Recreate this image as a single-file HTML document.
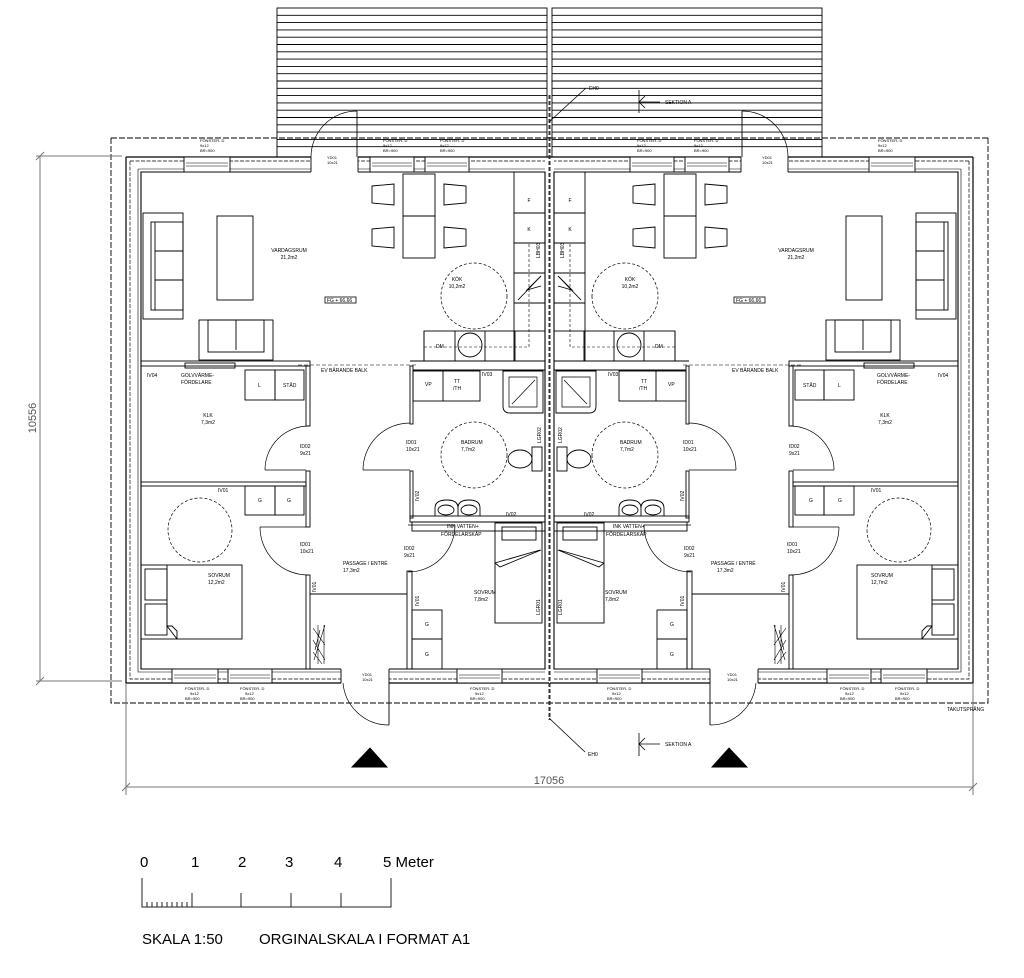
<!DOCTYPE html>
<html><head><meta charset="utf-8"><style>
html,body{margin:0;padding:0;background:#fff;}
svg{display:block;font-family:"Liberation Sans",sans-serif;}
.t{font-size:5px;font-family:"Liberation Sans",sans-serif;}
</style></head><body>
<svg width="1024" height="978" viewBox="0 0 1024 978" xmlns="http://www.w3.org/2000/svg">
<defs>
<g id="half" fill="none" stroke="#000" stroke-width="0.9">
  <!-- deck -->
  <rect x="277" y="8" width="270" height="149"/>
  <path d="M277 15.3H547M277 22.6H547M277 29.9H547M277 37.2H547M277 44.5H547M277 51.8H547M277 59.1H547M277 66.4H547M277 73.7H547M277 81H547M277 88.3H547M277 95.6H547M277 102.9H547M277 110.2H547M277 117.5H547M277 124.8H547M277 132.1H547M277 139.4H547M277 146.7H547"/>
  <!-- roof dashed -->
  <path d="M111 138H549M111 138V703H549" stroke-dasharray="6,2"/>
  <!-- outer walls -->
  <path d="M126 157H549M126 157V683H549" stroke-width="1.2"/>
  <path d="M130 161H545M130 161V679H545" stroke-dasharray="4,1.5" stroke-width="0.7"/>
  <path d="M141 172H545V669H141Z" stroke-width="1.1"/>
  <path d="M138 169H545M138 169V672H545" stroke-width="0.6"/>
  <!-- party wall -->
  <path d="M549 95V720" stroke-dasharray="4,2" stroke-width="0.8"/>
  <!-- door gaps top -->
  <rect x="311" y="155" width="47" height="19" fill="#fff" stroke="none"/>
  <path d="M311 157V172M358 157V172M357 157V111"/>
  <path d="M311 157A46 46 0 0 1 357 111" stroke-width="0.7"/>
  <!-- bottom door -->
  <rect x="341" y="667" width="48" height="19" fill="#fff" stroke="none"/>
  <path d="M341 669V683M389 669V683M389 683V725"/>
  <path d="M389 725A46 46 0 0 1 343 683" stroke-width="0.7"/>
  <!-- windows -->
  <g fill="#fff">
  <rect x="184" y="157" width="46" height="15"/><rect x="370" y="157" width="44" height="15"/><rect x="425" y="157" width="44" height="15"/>
  <rect x="172" y="669" width="46" height="14"/><rect x="228" y="669" width="44" height="14"/><rect x="457" y="669" width="45" height="14"/>
  </g>
  <path d="M186 163H228M186 166H228M372 163H412M372 166H412M427 163H467M427 166H467M174 675H216M174 678H216M230 675H270M230 678H270M459 675H500M459 678H500" stroke-width="0.6"/>
  <!-- interior walls -->
  <rect x="141" y="361" width="169" height="5"/>
  <path d="M410 361H545"/>
  <path d="M298 365H418" stroke-dasharray="4,2" stroke-width="0.6"/>
  <rect x="306" y="366" width="4" height="60"/>
  <rect x="306" y="471" width="4" height="56"/>
  <rect x="306" y="575" width="4" height="94"/>
  <rect x="141" y="482" width="165" height="4"/>
  <!-- KLK door -->
  <path d="M265 470H306M265 470A44 44 0 0 1 309 426" stroke-width="0.7"/>
  <!-- sovrum door -->
  <path d="M260 527H306M260 527A48 48 0 0 0 308 575" stroke-width="0.7"/>
  <!-- bath walls -->
  <rect x="410" y="366" width="3" height="58"/>
  <rect x="410" y="471" width="3" height="47"/>
  <path d="M413 370H545"/>
  <rect x="410" y="516" width="135" height="6"/>
  <path d="M363 470H410M363 470A47 47 0 0 1 410 423" stroke-width="0.7"/>
  <rect x="407" y="571" width="5" height="98"/>
  <path d="M408 525H455M408 572A47 47 0 0 0 455 525" stroke-width="0.7"/>
  <path d="M310 594H407"/>
  <!-- wardrobe strokes -->
  <path d="M313 628L325 645M313 640L325 660M313 652L322 664M325 625L314 660M320 630L315 650M318 625V664M324 625V664" stroke-width="0.6"/>
  <!-- living room furniture -->
  <rect x="143" y="213" width="40" height="106"/>
  <rect x="151" y="222" width="32" height="88"/>
  <path d="M155 222V310M155 251H183M155 280H183"/>
  <rect x="217" y="216" width="36" height="84"/>
  <rect x="199" y="320" width="74" height="40"/>
  <rect x="208" y="320" width="56" height="32"/>
  <path d="M236 320V350"/>
  <!-- dining -->
  <rect x="403" y="174" width="32" height="84"/><path d="M403 216H435"/>
  <path d="M372 186L394 184V205L372 203Z M372 229L394 227V248L372 246Z M444 184L466 186V203L444 205Z M444 227L466 229V246L444 248Z"/>
  <circle cx="474" cy="296" r="33" stroke-dasharray="3,2" stroke-width="0.7"/>
  <!-- kitchen -->
  <rect x="514" y="172" width="31" height="189"/>
  <path d="M514 213H545M514 243H545M514 273H545M514 303H545M518 300L541 276L527 290L541 286"/>
  <path d="M529 244V347H424" stroke-dasharray="3,2" stroke-width="0.6"/>
  <rect x="424" y="331" width="121" height="30"/>
  <path d="M455 331V361M485 331V361M515 331V361M424 331V361" />
  <circle cx="470" cy="345" r="12"/>
  <!-- KLK furniture -->
  <rect x="245" y="370" width="30" height="30"/><rect x="275" y="370" width="29" height="30"/>
  <rect x="185" y="363" width="50" height="5"/>
  <!-- sovrum 1 -->
  <rect x="245" y="486" width="30" height="29"/><rect x="275" y="486" width="29" height="29"/>
  <circle cx="200" cy="530" r="32" stroke-dasharray="3,2" stroke-width="0.7"/>
  <rect x="141" y="565" width="101" height="74"/>
  <path d="M167 565V626L177 639M167 626H172L177 631V639"/>
  <rect x="145" y="569" width="22" height="31"/><rect x="145" y="604" width="22" height="31"/>
  <!-- bath -->
  <rect x="413" y="371" width="67" height="30"/><path d="M443 371V401"/>
  <path d="M503 371H543V413H510Q503 413 503 406Z"/><path d="M509 377H537V407H509Z M512 404L535 380" stroke-width="0.7"/>
  <circle cx="474" cy="455" r="33" stroke-dasharray="3,2" stroke-width="0.7"/>
  <rect x="532" y="447" width="10" height="24"/>
  <ellipse cx="520" cy="459" rx="12" ry="9"/>
  <path d="M435 516V508Q435 500 447 500Q458 500 458 508V516M458 516V508Q458 500 469 500Q480 500 480 508V516"/>
  <ellipse cx="446" cy="510" rx="8" ry="5"/><ellipse cx="469" cy="510" rx="8" ry="5"/>
  <!-- sovrum 2 -->
  <rect x="412" y="522" width="133" height="9"/>
  <rect x="495" y="523" width="47" height="100"/>
  <rect x="502" y="527" width="34" height="13"/>
  <path d="M495 563L540 550M495 563L500 567L541 550"/>
  <rect x="412" y="610" width="30" height="29"/><rect x="412" y="639" width="30" height="30"/>
  <!-- triangle -->
  <path d="M352 767L370 748L387 767Z" fill="#000"/>
</g>
</defs>
<use href="#half"/>
<use href="#half" transform="translate(1099,0) scale(-1,1)"/>

<g fill="none" stroke="#000" stroke-width="0.8">
  <path d="M549 122L586 88"/>
  <path d="M549 718L585 752"/>
  <path d="M639 90V113M639 102H660M639 102L645 96M639 102L645 108"/>
  <path d="M639 733V756M639 744H660M639 744L645 738M639 744L645 750"/>
</g>
<!-- dimensions -->
<g stroke="#777" stroke-width="1" fill="none">
  <path d="M40 156V681M36 156H122M36 681H122M36 160L44 152M36 685L44 677"/>
  <path d="M126 683V795M973 683V795M126 787H973M122 791L130 783M969 791L977 783"/>
</g>
<text x="40" y="418" font-size="11" fill="#555" text-anchor="middle" transform="rotate(-90 40 418)" dy="-4">10556</text>
<text x="549" y="784" font-size="11" fill="#555" text-anchor="middle">17056</text>

<!-- labels left -->
<g class="t" fill="#000" font-size="5">
<text x="289" y="252" text-anchor="middle">VARDAGSRUM</text><text x="289" y="259" text-anchor="middle">21,2m2</text>
<text x="457" y="281" text-anchor="middle">KÖK</text><text x="457" y="288" text-anchor="middle">10,2m2</text>
<text x="436" y="348">DM</text>
<text x="529" y="202" text-anchor="middle">F</text><text x="529" y="231" text-anchor="middle">K</text>
<text x="540" y="258" transform="rotate(-90 540 258)">LBH03</text>
<text x="321" y="372">EV BÄRANDE BALK</text>
<text x="147" y="377">IV04</text><text x="181" y="377">GOLVVÄRME-</text><text x="181" y="384">FÖRDELARE</text>
<text x="258" y="387">L</text><text x="283" y="387">STÅD</text>
<text x="208" y="417" text-anchor="middle">KLK</text><text x="208" y="424" text-anchor="middle">7,3m2</text>
<text x="300" y="448">ID02</text><text x="300" y="455">9x21</text>
<text x="218" y="492">IV01</text><text x="258" y="502">G</text><text x="287" y="502">G</text>
<text x="300" y="546">ID01</text><text x="300" y="553">10x21</text>
<text x="208" y="577">SOVRUM</text><text x="208" y="584">12,2m2</text>
<text x="343" y="565">PASSAGE / ENTRÉ</text><text x="343" y="572">17,3m2</text>
<text x="316" y="592" transform="rotate(-90 316 592)">IV01</text>
<text x="404" y="550">ID02</text><text x="404" y="557">9x21</text>
<text x="447" y="528">INK VATTEN+</text><text x="441" y="536">FÖRDELARSKÅP</text>
<text x="474" y="594">SOVRUM</text><text x="474" y="601">7,8m2</text>
<text x="540" y="615" transform="rotate(-90 540 615)">LGR01</text>
<text x="419" y="606" transform="rotate(-90 419 606)">IV01</text>
<text x="425" y="626">G</text><text x="425" y="656">G</text>
<text x="425" y="386">VP</text><text x="454" y="383">TT</text><text x="453" y="390">/TH</text><text x="482" y="376">IV03</text>
<text x="406" y="444">ID01</text><text x="406" y="451">10x21</text>
<text x="461" y="444">BADRUM</text><text x="461" y="451">7,7m2</text>
<text x="541" y="443" transform="rotate(-90 541 443)">LGR02</text>
<text x="419" y="501" transform="rotate(-90 419 501)">IV02</text><text x="506" y="516">IV02</text>
<text x="200" y="142" font-size="4">FÖNSTER- D</text><text x="200" y="147" font-size="4">9x12</text><text x="200" y="152" font-size="4">BR=900</text>
<text x="383" y="142" font-size="4">FÖNSTER- D</text><text x="383" y="147" font-size="4">9x12</text><text x="383" y="152" font-size="4">BR=900</text>
<text x="440" y="142" font-size="4">FÖNSTER- D</text><text x="440" y="147" font-size="4">9x12</text><text x="440" y="152" font-size="4">BR=900</text>
<text x="327" y="159" font-size="4">YD01</text><text x="327" y="164" font-size="4">10x21</text>
<text x="362" y="676" font-size="4">YD01</text><text x="362" y="681" font-size="4">10x21</text>
<text x="185" y="690" font-size="4">FÖNSTER- D</text><text x="190" y="695" font-size="4">9x12</text><text x="185" y="700" font-size="4">BR=900</text>
<text x="240" y="690" font-size="4">FÖNSTER- D</text><text x="245" y="695" font-size="4">9x12</text><text x="240" y="700" font-size="4">BR=900</text>
<text x="470" y="690" font-size="4">FÖNSTER- D</text><text x="475" y="695" font-size="4">9x12</text><text x="470" y="700" font-size="4">BR=900</text>
<text x="589" y="90">EH0</text><text x="588" y="756">EH0</text>
<text x="665" y="104">SEKTION A</text><text x="665" y="746">SEKTION A</text>
<text x="947" y="711">TAKUTSPRÅNG</text>
</g>
<rect x="325" y="297" width="31" height="6" fill="none" stroke="#000" stroke-width="0.8"/>
<text x="327" y="302" class="t" font-size="5">FG + 66,66</text>
<rect x="734" y="297" width="31" height="6" fill="none" stroke="#000" stroke-width="0.8"/>
<text x="736" y="302" class="t" font-size="5">FG + 66,66</text>

<!-- labels right (mirrored) -->
<g class="t" fill="#000" font-size="5">
<text x="796" y="252" text-anchor="middle">VARDAGSRUM</text><text x="796" y="259" text-anchor="middle">21,2m2</text>
<text x="630" y="281" text-anchor="middle">KÖK</text><text x="630" y="288" text-anchor="middle">10,2m2</text>
<text x="655" y="348">DM</text>
<text x="570" y="202" text-anchor="middle">F</text><text x="570" y="231" text-anchor="middle">K</text>
<text x="564" y="258" transform="rotate(-90 564 258)">LBH03</text>
<text x="732" y="372">EV BÄRANDE BALK</text>
<text x="938" y="377">IV04</text><text x="877" y="377">GOLVVÄRME-</text><text x="877" y="384">FÖRDELARE</text>
<text x="838" y="387">L</text><text x="803" y="387">STÅD</text>
<text x="885" y="417" text-anchor="middle">KLK</text><text x="885" y="424" text-anchor="middle">7,3m2</text>
<text x="789" y="448">ID02</text><text x="789" y="455">9x21</text>
<text x="871" y="492">IV01</text><text x="809" y="502">G</text><text x="838" y="502">G</text>
<text x="787" y="546">ID01</text><text x="787" y="553">10x21</text>
<text x="871" y="577">SOVRUM</text><text x="871" y="584">12,7m2</text>
<text x="711" y="565">PASSAGE / ENTRÉ</text><text x="717" y="572">17,3m2</text>
<text x="785" y="592" transform="rotate(-90 785 592)">IV01</text>
<text x="684" y="550">ID02</text><text x="684" y="557">9x21</text>
<text x="613" y="528">INK VATTEN+</text><text x="606" y="536">FÖRDELARSKÅP</text>
<text x="605" y="594">SOVRUM</text><text x="605" y="601">7,8m2</text>
<text x="562" y="615" transform="rotate(-90 562 615)">LGR01</text>
<text x="684" y="606" transform="rotate(-90 684 606)">IV01</text>
<text x="670" y="626">G</text><text x="670" y="656">G</text>
<text x="668" y="386">VP</text><text x="641" y="383">TT</text><text x="639" y="390">/TH</text><text x="608" y="376">IV03</text>
<text x="683" y="444">ID01</text><text x="683" y="451">10x21</text>
<text x="620" y="444">BADRUM</text><text x="620" y="451">7,7m2</text>
<text x="562" y="443" transform="rotate(-90 562 443)">LGR02</text>
<text x="684" y="501" transform="rotate(-90 684 501)">IV02</text><text x="584" y="516">IV02</text>
<text x="878" y="142" font-size="4">FÖNSTER- D</text><text x="878" y="147" font-size="4">9x12</text><text x="878" y="152" font-size="4">BR=900</text>
<text x="694" y="142" font-size="4">FÖNSTER- D</text><text x="694" y="147" font-size="4">9x12</text><text x="694" y="152" font-size="4">BR=900</text>
<text x="637" y="142" font-size="4">FÖNSTER- D</text><text x="637" y="147" font-size="4">9x12</text><text x="637" y="152" font-size="4">BR=900</text>
<text x="762" y="159" font-size="4">YD01</text><text x="762" y="164" font-size="4">10x21</text>
<text x="727" y="676" font-size="4">YD01</text><text x="727" y="681" font-size="4">10x21</text>
<text x="840" y="690" font-size="4">FÖNSTER- D</text><text x="845" y="695" font-size="4">9x12</text><text x="840" y="700" font-size="4">BR=900</text>
<text x="895" y="690" font-size="4">FÖNSTER- D</text><text x="900" y="695" font-size="4">9x12</text><text x="895" y="700" font-size="4">BR=900</text>
<text x="607" y="690" font-size="4">FÖNSTER- D</text><text x="612" y="695" font-size="4">9x12</text><text x="607" y="700" font-size="4">BR=900</text>
</g>

<!-- scale bar -->
<g stroke="#222" stroke-width="1" fill="none">
  <path d="M142 878V907H391V878M192 893V907M241 893V907M291 893V907M341 893V907"/>
  <path d="M147 902V907M152 902V907M157 902V907M162 902V907M167 902V907M172 902V907M177 902V907M182 902V907M187 902V907"/>
</g>
<g font-size="15" fill="#000">
<text x="140" y="867">0</text><text x="191" y="867">1</text><text x="238" y="867">2</text><text x="285" y="867">3</text><text x="334" y="867">4</text><text x="383" y="867">5 Meter</text>
<text x="142" y="944">SKALA 1:50</text><text x="259" y="944">ORGINALSKALA I FORMAT A1</text>
</g>
</svg>
</body></html>
